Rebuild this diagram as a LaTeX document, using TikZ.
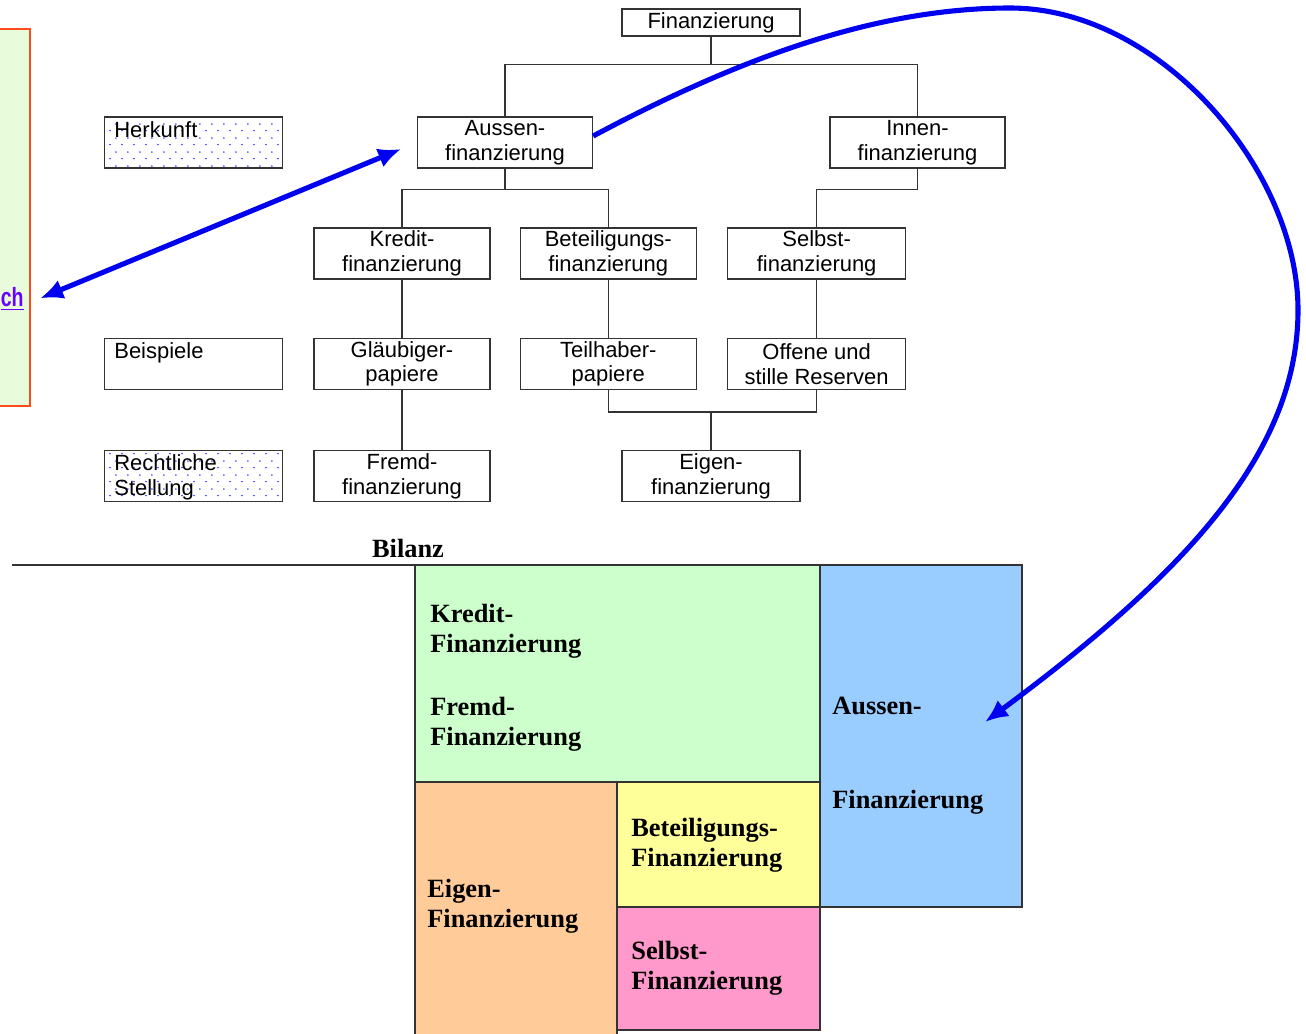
\documentclass[tikz,border=0pt]{standalone}
\usepackage{fontspec}
\setmainfont{Liberation Sans}
\newfontfamily\bilanzfont{Liberation Serif}
\usepackage{tikz}
\usetikzlibrary{positioning,arrows.meta,patterns.meta}
\tikzset{>={Latex[width=4mm,length=4.6mm]}}
\definecolor{boxline}{HTML}{333333}
\definecolor{linkblue}{HTML}{0000F0}
\definecolor{notegreen}{HTML}{E8FCDC}
\definecolor{noteorange}{HTML}{FF4A1C}
\definecolor{linkviolet}{HTML}{6A00FF}
\definecolor{kreditgreen}{HTML}{CCFFCC}
\definecolor{aussenblue}{HTML}{99CCFF}
\definecolor{eigenorange}{HTML}{FFCC99}
\definecolor{beteilyellow}{HTML}{FFFF99}
\definecolor{selbstpink}{HTML}{FF99CC}
\tikzdeclarepattern{
	name=bluedots,
	type=uncolored,
	bounding box={(0pt,0pt) and (6.8pt,8pt)},
	tile size={(6.8pt,8pt)},
	code={
		\fill (1.7pt,2pt) circle (0.45pt);
		\fill (5.1pt,6pt) circle (0.45pt);
	}
}
\tikzset{
	tree/.style={draw=boxline, line width=0.75pt, minimum width=3.52cm, minimum height=1.02cm, inner sep=1pt, align=center, font=\fontsize{12.5pt}{14.2pt}\selectfont},
	rowlabel/.style={draw=boxline, line width=0.75pt, minimum width=3.56cm, minimum height=1.02cm},
	rowtext/.style={anchor=north west, inner sep=0pt, xshift=0.2cm, yshift=-0.09cm, align=left, font=\fontsize{12.5pt}{14.2pt}\selectfont},
	dotfill/.style={pattern=bluedots, pattern color=blue},
	link/.style={draw=boxline, line width=0.75pt},
	bilanzbox/.style={draw=boxline, line width=1.1pt},
	btext/.style={anchor=north west, inner sep=0pt, align=left, font=\bilanzfont\bfseries\fontsize{15pt}{17pt}\selectfont},
	bluearrow/.style={draw=linkblue, line width=2.9pt}
}

\begin{document}
\begin{tikzpicture}
		\useasboundingbox (0,0) rectangle (26.12,-20.66);
		\clip (0,0) rectangle (26.12,-20.66);

		\draw[draw=noteorange, fill=notegreen, line width=1pt] (-1,-0.58) rectangle (0.6,-8.12);
		\node(C1) [font=\bfseries\fontsize{15pt}{18pt}\selectfont, text=linkviolet, anchor=east, inner sep=0pt] at (0.48,-5.98) {\scalebox{0.74}[1]{\underline{ch}}};

		\node(F1) [tree, minimum width=3.56cm, minimum height=0.54cm] at (14.22,-0.45) {Finanzierung};
		\node(A1) [tree, minimum width=3.5cm] at (10.1,-2.85) {Aussen-\\finanzierung};
		\node(I1) [tree, minimum width=3.5cm] at (18.35,-2.85) {Innen-\\finanzierung};
		\node(K1) [tree] at (8.04,-5.07) {Kredit-\\finanzierung};
		\node(B1) [tree, right=0.58cm of K1] {Beteiligungs-\\finanzierung};
		\node(S1) [tree, minimum width=3.56cm, right=0.6cm of B1] {Selbst-\\finanzierung};
		\node(G1) [tree, below=1.16cm of K1] {Gläubiger-\\papiere};
		\node(T1) [tree, below=1.16cm of B1] {Teilhaber-\\papiere};
		\node(O1) [tree, minimum width=3.56cm, below=1.16cm of S1] {Offene und\\stille Reserven};
		\node(FR1) [tree, below=1.2cm of G1] {Fremd-\\finanzierung};
		\node(E1) [tree, minimum width=3.56cm] at (F1 |- FR1) {Eigen-\\finanzierung};

		\node(L2) [rowlabel, left=0.6cm of G1, label={[rowtext]north west:Beispiele}] {};
		\node(L3) [rowlabel, dotfill, left=0.6cm of FR1, label={[rowtext]north west:Rechtliche\\Stellung}] {};
		\node(L1) [rowlabel, dotfill, label={[rowtext]north west:Herkunft}] at (L2 |- A1) {};

		\draw[link] (F1.south) -- ++(0,-0.56) coordinate (J1);
		\draw[link] (J1) -| (A1.north);
		\draw[link] (J1) -| (I1.north);
		\draw[link] (A1.south) -- ++(0,-0.42) coordinate (J2);
		\draw[link] (J2) -| (K1.north);
		\draw[link] (J2) -| (B1.north);
		\draw[link] (I1.south) -- ++(0,-0.42) coordinate (J3);
		\draw[link] (J3) -| (S1.north);
		\draw[link] (K1) -- (G1);
		\draw[link] (B1) -- (T1);
		\draw[link] (S1) -- (O1);
		\draw[link] (G1) -- (FR1);
		\draw[link] (T1.south) -- ++(0,-0.44) coordinate (J4) -| (O1.south);
		\draw[link] (E1) -- (E1 |- J4);

		\node(BZ) [anchor=base, inner sep=0pt, font=\bilanzfont\bfseries\fontsize{15pt}{17pt}\selectfont] at (8.16,-11.14) {Bilanz};
		\draw[bilanzbox] (0.24,-11.3) -- (8.3,-11.3);
		\draw[bilanzbox, fill=kreditgreen] (8.3,-11.3) rectangle (16.4,-15.64);
		\draw[bilanzbox, fill=aussenblue] (16.4,-11.3) rectangle (20.44,-18.14);
		\draw[bilanzbox, fill=eigenorange] (8.3,-15.64) rectangle (12.34,-21.2);
		\draw[bilanzbox, fill=beteilyellow] (12.34,-15.64) rectangle (16.4,-18.14);
		\draw[bilanzbox, fill=selbstpink] (12.34,-18.14) rectangle (16.4,-20.6);

		\node(KT) [btext] at (8.6,-12.08) {Kredit-\\Finanzierung};
		\node(FT) [btext] at (8.6,-13.94) {Fremd-\\Finanzierung};
		\node(AT1) [btext] at (16.64,-13.94) {Aussen-};
		\node(AT2) [btext] at (16.64,-15.8) {Finanzierung};
		\node(BT) [btext] at (12.62,-16.36) {Beteiligungs-\\Finanzierung};
		\node(ET) [btext] at (8.54,-17.58) {Eigen-\\Finanzierung};
		\node(ST) [btext] at (12.62,-18.82) {Selbst-\\Finanzierung};
		\coordinate (AB) at (19.7,-14.44);

		\draw[bluearrow, <->, shorten <=0.34cm, shorten >=0.35cm] (A1.west) -- ([yshift=-0.12cm]C1.east);
		\draw[bluearrow, ->] ([yshift=0.13cm]A1.east) .. controls (14.9,-1.1) and (17.6,-0.16) .. (20.2,-0.16)
			.. controls (23.2,-0.16) and (25.96,-3.4) .. (25.96,-6.2)
			.. controls (25.96,-9.0) and (23.8,-11.4) .. (AB);
	\end{tikzpicture}
\end{document}
